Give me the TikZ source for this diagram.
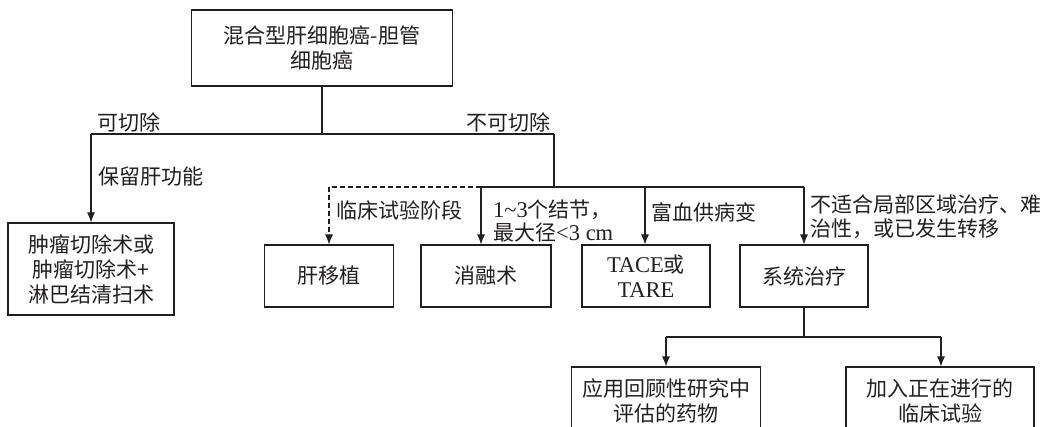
\documentclass[tikz,border=0pt]{standalone}
\usepackage{fontspec}
\setmainfont{Liberation Serif}
\newfontfamily\cjk{Noto Sans CJK SC}
\newcommand{\lat}[1]{{\rmfamily\fontsize{22.5}{25}\selectfont #1}}
\usetikzlibrary{arrows.meta}
\definecolor{ink}{HTML}{231F20}
\tikzset{
  box/.style={draw=ink, line width=1.1pt, inner sep=0pt, align=center, text=ink,
    font=\cjk\fontsize{21}{25}\selectfont},
  lbl/.style={inner sep=0pt, anchor=west, align=left, text=ink,
    font=\cjk\fontsize{21}{23.5}\selectfont},
  ln/.style={draw=ink, line width=1.1pt},
  arr/.style={ln, -{Latex[length=10pt,width=8pt]}},
  dsh/.style={dash pattern=on 5pt off 3pt}
}
\begin{document}
\begin{tikzpicture}[x=1pt,y=-1pt]
\useasboundingbox (0,0) rectangle (1048,427);
\clip (0,0) rectangle (1048,427);
\fill[white] (0,0) rectangle (1048,427);
% boxes
\node[box, minimum width=261pt, minimum height=76pt] (top) at (322,48) {混合型肝细胞癌-胆管\\细胞癌};
\node[box, minimum width=166pt, minimum height=92pt] (left) at (91,269) {肿瘤切除术或\\肿瘤切除术+\\淋巴结清扫术};
\node[box, minimum width=129pt, minimum height=62pt] (liver) at (329,276) {肝移植};
\node[box, minimum width=130pt, minimum height=62pt] (abl) at (486,276) {消融术};
\node[box, minimum width=128pt, minimum height=62pt] (tace) at (646,276) {\lat{TACE}或\\\lat{TARE}};
\node[box, minimum width=128pt, minimum height=62pt] (sys) at (804,276) {系统治疗};
\node[box, minimum width=189pt, minimum height=68pt] (drug) at (666,401) {应用回顾性研究中\\评估的药物};
\node[box, minimum width=188pt, minimum height=68pt] (trial) at (940,401) {加入正在进行的\\临床试验};
% junctions
\coordinate (jL) at (91,134);
\coordinate (jR) at (554,134);
\coordinate (jH) at (554,187);
\coordinate (d1) at (329,187);
\coordinate (d2) at (481,187);
\coordinate (d3) at (645,187);
\coordinate (d4) at (804,187);
\coordinate (b0) at (804,337);
\coordinate (bl) at (666,337);
\coordinate (br) at (941,337);
% connectors
\draw[ln] (top.south) -- (top.south |- jL);
\draw[ln] (jR) -- (jL);
\draw[arr] (jL) -- (left.north);
\draw[ln] (jR) -- (jH);
\draw[ln] (d2) -- (d4);
\draw[ln, dsh] (d2) -- (d1);
\draw[arr, dsh] (d1) -- (liver.north);
\draw[arr] (d2) -- (abl.north -| d2);
\draw[arr] (d3) -- (tace.north -| d3);
\draw[arr] (d4) -- (sys.north);
\draw[ln] (sys.south) -- (b0);
\draw[ln] (bl) -- (br);
\draw[arr] (bl) -- (drug.north);
\draw[arr] (br) -- (trial.north -| br);
% labels
\node[lbl] (l1) at (97,122) {可切除};
\node[lbl] (l2) at (466,122) {不可切除};
\node[lbl] (l3) at (98,177) {保留肝功能};
\node[lbl] (l4) at (336,210) {临床试验阶段};
\node[lbl] (l5) at (493,221) {\lat{1\char"007E 3}个结节，\\最大径\lat{<3 cm}};
\node[lbl] (l6) at (651,212) {富血供病变};
\node[lbl] (l7) at (810,217) {不适合局部区域治疗、难\\治性，或已发生转移};
\end{tikzpicture}
\end{document}
